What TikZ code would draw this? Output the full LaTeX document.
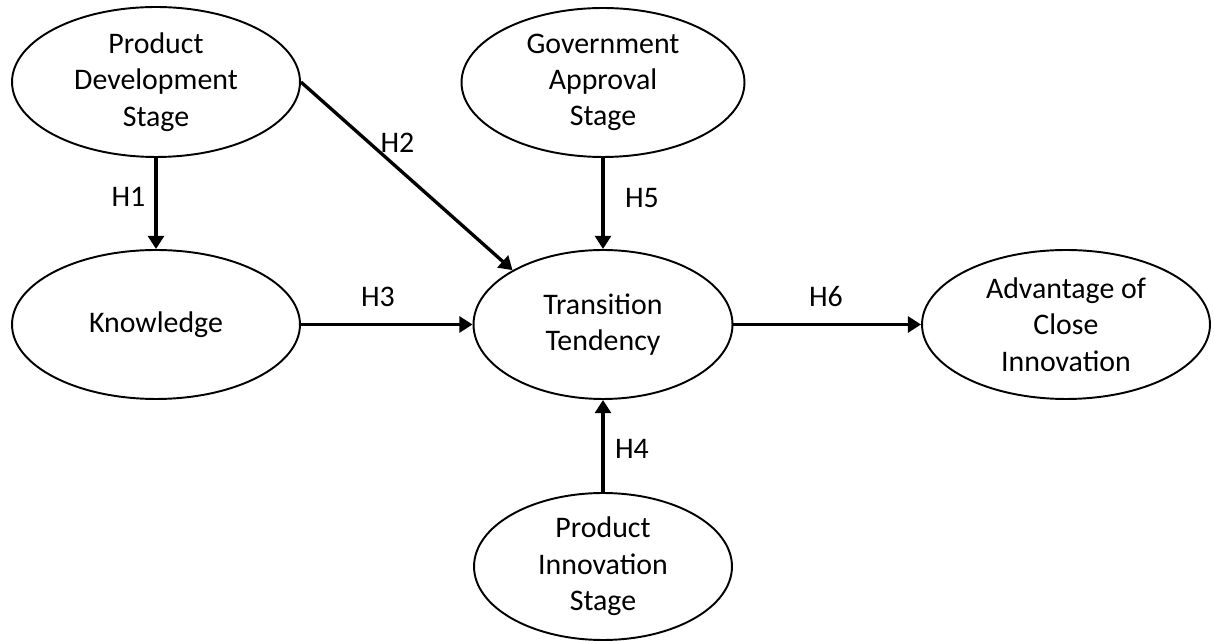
\documentclass[tikz,border=0pt]{standalone}
\usepackage{fontspec}
\setmainfont{Carlito}
\usetikzlibrary{shapes.geometric,arrows.meta}
\tikzset{
  construct/.style={ellipse, draw=black, line width=1.1pt, inner sep=0pt, align=center,
    font=\fontsize{17}{20.7}\selectfont},
  hlabel/.style={inner sep=0pt, font=\fontsize{17}{20.7}\selectfont},
  arr/.style={line width=1.9pt, -{Triangle[length=7.5pt,width=9pt]}}
}
\begin{document}
\begin{tikzpicture}[x=0.02cm, y=-0.02cm]
\useasboundingbox (0,0) rectangle (1214,641);
\node[construct, minimum width=5.76cm, minimum height=3.0cm] (pds) at (156,82) {Product\\Development\\Stage};
\node[construct, minimum width=5.66cm, minimum height=2.98cm] (gas) at (603,82.5) {Government\\Approval\\Stage};
\node[construct, minimum width=5.76cm, minimum height=2.98cm] (know) at (156,324.5) {Knowledge};
\node[construct, minimum width=5.18cm, minimum height=2.98cm] (tt) at (603,324.5) {Transition\\Tendency};
\node[construct, minimum width=5.76cm, minimum height=2.98cm] (aci) at (1066,324.5) {Advantage of\\Close\\Innovation};
\node[construct, minimum width=5.16cm, minimum height=2.94cm] (pis) at (603,566.5) {Product\\Innovation\\Stage};

\draw[arr] (pds.south) -- (know.north);
\draw[arr] (pds.east) -- (tt.149);
\draw[arr] (gas.south) -- (tt.north);
\draw[arr] (know.east) -- (tt.west);
\draw[arr] (tt.east) -- (aci.west);
\draw[arr] (pis.north) -- (tt.south);

\node[hlabel] (h1) at (128.5,197) {H1};
\node[hlabel] (h2) at (397.5,142.5) {H2};
\node[hlabel] (h3) at (378,297) {H3};
\node[hlabel] (h4) at (632,449) {H4};
\node[hlabel] (h5) at (642,198) {H5};
\node[hlabel] (h6) at (826,297) {H6};
\end{tikzpicture}
\end{document}
